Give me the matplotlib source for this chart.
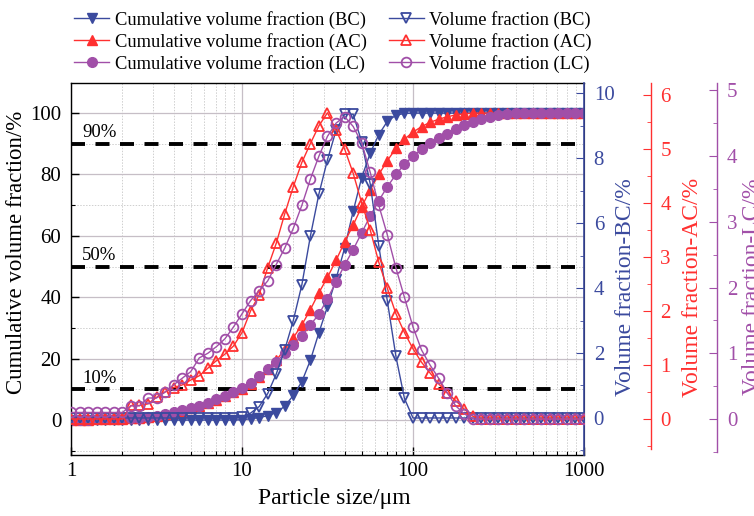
import numpy as np
import matplotlib
matplotlib.use("Agg")
import matplotlib.pyplot as plt
from matplotlib.ticker import FixedLocator, NullFormatter, MultipleLocator, LogLocator

plt.rcParams['font.family'] = ['Liberation Serif', 'DejaVu Serif']

# Particle size classes (µm), 20 classes per decade
particle_size = [
    1.000, 1.122, 1.259, 1.413, 1.585, 1.778, 1.995, 2.239, 2.512, 2.818,
    3.162, 3.548, 3.981, 4.467, 5.012, 5.623, 6.310, 7.079, 7.943, 8.913,
    10.00, 11.22, 12.59, 14.13, 15.85, 17.78, 19.95, 22.39, 25.12, 28.18,
    31.62, 35.48, 39.81, 44.67, 50.12, 56.23, 63.10, 70.79, 79.43, 89.13,
    100.0, 112.2, 125.9, 141.3, 158.5, 177.8, 199.5, 223.9, 251.2, 281.8,
    316.2, 354.8, 398.1, 446.7, 501.2, 562.3, 631.0, 707.9, 794.3, 891.3,
    1000.0,
]

# Cumulative volume fraction (%)
bc_cum = [
    0, 0, 0, 0, 0, 0, 0, 0, 0, 0,
    0, 0, 0, 0, 0, 0, 0, 0, 0, 0,
    0.1, 0.4, 0.8, 1.4, 2.4, 4.5, 8.0, 12.5, 19.5, 28.5,
    37, 46, 56, 68, 79, 87, 93, 97.3, 99.3, 99.9,
    100, 100, 100, 100, 100, 100, 100, 100, 100, 100,
    100, 100, 100, 100, 100, 100, 100, 100, 100, 100,
    100,
]
ac_cum = [
    0.1, 0.1, 0.15, 0.2, 0.25, 0.3, 0.4, 0.5, 0.7, 1.0,
    1.4, 1.9, 2.5, 3.1, 3.8, 4.6, 5.5, 6.6, 7.8, 9.0,
    10.2, 11.8, 14.0, 16.5, 19.5, 23.0, 26.8, 31.0, 36.0, 41.5,
    46.5, 52.0, 58.0, 63.5, 69.5, 75.0, 80.0, 84.5, 88.5, 91.5,
    93.8, 95.6, 97.0, 98.0, 98.8, 99.4, 99.8, 100, 100, 100,
    100, 100, 100, 100, 100, 100, 100, 100, 100, 100,
    100,
]
lc_cum = [
    0.1, 0.1, 0.15, 0.2, 0.25, 0.3, 0.4, 0.55, 0.75, 1.05,
    1.45, 1.95, 2.55, 3.2, 3.9, 4.7, 5.6, 6.7, 7.9, 9.1,
    10.5, 12.2, 14.2, 16.5, 19.0, 21.7, 24.5, 27.5, 31.0, 34.5,
    39.5, 45.0, 50.5, 55.5, 61.0, 66.5, 71.5, 76.0, 80.0, 83.3,
    86.0, 88.2, 90.2, 91.8, 93.3, 94.7, 96.0, 97.1, 98.0, 98.8,
    99.3, 99.7, 99.9, 100, 100, 100, 100, 100, 100, 100,
    100,
]

# Volume fraction per size class (%)
bc_vol = [
    0, 0, 0, 0, 0, 0, 0, 0, 0, 0,
    0, 0, 0, 0, 0, 0, 0, 0, 0, 0,
    0.03, 0.15, 0.35, 0.75, 1.35, 2.1, 3.0, 4.1, 5.6, 6.9,
    7.95, 8.85, 9.35, 9.35, 8.5, 7.2, 5.3, 3.6, 1.9, 0.6,
    0, 0, 0, 0, 0, 0, 0, 0, 0, 0,
    0, 0, 0, 0, 0, 0, 0, 0, 0, 0,
    0,
]
ac_vol = [
    0, 0, 0, 0, 0, 0, 0, 0.25, 0.25, 0.28,
    0.4, 0.5, 0.58, 0.63, 0.72, 0.8, 0.94, 1.08, 1.2, 1.35,
    1.6, 2.0, 2.3, 2.8, 3.25, 3.8, 4.3, 4.75, 5.1, 5.43,
    5.67, 5.35, 5.0, 4.55, 4.0, 3.5, 2.9, 2.42, 1.95, 1.6,
    1.3, 1.05, 0.85, 0.65, 0.48, 0.34, 0.18, 0.05, 0, 0,
    0, 0, 0, 0, 0, 0, 0, 0, 0, 0,
    0,
]
lc_vol = [
    0.1, 0.1, 0.1, 0.1, 0.1, 0.1, 0.1, 0.2, 0.2, 0.32,
    0.32, 0.41, 0.52, 0.62, 0.72, 0.93, 1.0, 1.1, 1.22, 1.4,
    1.6, 1.8, 1.95, 2.1, 2.35, 2.6, 2.9, 3.25, 3.65, 4.0,
    4.3, 4.5, 4.6, 4.45, 4.2, 3.75, 3.25, 2.8, 2.3, 1.85,
    1.4, 1.05, 0.82, 0.62, 0.4, 0.2, 0.08, 0, 0, 0,
    0, 0, 0, 0, 0, 0, 0, 0, 0, 0,
    0,
]

reference_levels = [10, 50, 90]
reference_labels = ['10%', '50%', '90%']

C_BC = '#3B4A9E'
C_AC = '#FF3030'
C_LC = '#A14FA8'

fig = plt.figure(figsize=(7.54, 5.16), dpi=100)
ax = fig.add_axes([0.0942, 0.1182, 0.6803, 0.7209])
ax_bc = ax.twinx()
ax_ac = ax.twinx()
ax_lc = ax.twinx()

ms = 7
mew = 1.3
lw = 1.0

# cumulative curves on the left axis
h1, = ax.plot(particle_size, bc_cum, color=C_BC, marker='v', ms=ms, lw=lw,
              label='Cumulative volume fraction (BC)')
h2, = ax.plot(particle_size, ac_cum, color=C_AC, marker='^', ms=ms, lw=lw,
              label='Cumulative volume fraction (AC)')
h3, = ax.plot(particle_size, lc_cum, color=C_LC, marker='o', ms=ms, lw=lw,
              label='Cumulative volume fraction (LC)')

# per-class volume fractions on the three right axes
h4, = ax_bc.plot(particle_size, bc_vol, color=C_BC, marker='v', ms=ms, lw=lw,
                 mfc='none', mew=mew, label='Volume fraction (BC)')
h5, = ax_ac.plot(particle_size, ac_vol, color=C_AC, marker='^', ms=ms, lw=lw,
                 mfc='none', mew=mew, label='Volume fraction (AC)')
h6, = ax_lc.plot(particle_size, lc_vol, color=C_LC, marker='o', ms=ms, lw=lw,
                 mfc='none', mew=mew, label='Volume fraction (LC)')

# reference levels
for lvl, txt in zip(reference_levels, reference_labels):
    ax.axhline(lvl, color='black', lw=2.8, dashes=(3.6, 2.7), zorder=1.5)
    ax.text(1.16, lvl + 2.2, txt, fontsize=13.5, ha='left', va='baseline')

ax.set_xscale('log')
ax.set_xlim(1, 1000)
ax.set_ylim(-11.4, 109.8)
ax.xaxis.set_major_locator(FixedLocator([1, 10, 100, 1000]))
ax.set_xticklabels(['1', '10', '100', '1000'])
ax.xaxis.set_minor_locator(LogLocator(base=10, subs=np.arange(2, 10)))
ax.xaxis.set_minor_formatter(NullFormatter())
ax.yaxis.set_major_locator(MultipleLocator(20))
ax.yaxis.set_minor_locator(MultipleLocator(10))

ax.grid(which='major', color='#C6BEC6', lw=0.9, ls='-')
ax.grid(which='minor', color='#CFCFCF', lw=0.7, ls=(0, (1.5, 1.5)))
ax.set_axisbelow(True)

ax.tick_params(which='both', direction='in', labelsize=15, top=False, right=False)
ax.tick_params(which='major', length=6, width=1)
ax.tick_params(which='minor', length=3, width=0.8)
ax.tick_params(axis='x', pad=5)
ax.tick_params(axis='y', pad=7)
ax.set_xlabel('Particle size/μm', fontsize=17)
ax.xaxis.set_label_coords(0.5127, -0.09)
ax.set_ylabel('Cumulative volume fraction/%', fontsize=16.5)
ax.yaxis.set_label_coords(-0.085, 0.546)
for s in ['left', 'bottom', 'top']:
    ax.spines[s].set_linewidth(1.0)

# BC axis (main right spine)
ax_bc.set_ylim(-1.14, 10.31)
ax_bc.yaxis.set_major_locator(MultipleLocator(2))
ax_bc.yaxis.set_minor_locator(MultipleLocator(1))
ax_bc.spines['right'].set_color(C_BC)
ax_bc.spines['right'].set_linewidth(1.2)
ax_bc.tick_params(which='both', direction='in', colors=C_BC, labelsize=15, pad=7)
ax_bc.tick_params(which='major', length=6)
ax_bc.tick_params(which='minor', length=3)
ax_bc.set_ylabel('Volume fraction-BC/%', fontsize=17, color=C_BC)
ax_bc.yaxis.set_label_coords(1.0604, 0.4516)

# AC axis
ax_ac.set_ylim(-0.667, 6.22)
ax_ac.spines['right'].set_position(('outward', 48))
ax_ac.spines['right'].set_bounds(-0.55, 6.22)
ax_ac.yaxis.set_major_locator(MultipleLocator(1))
ax_ac.yaxis.set_minor_locator(MultipleLocator(0.5))
ax_ac.spines['right'].set_color(C_AC)
ax_ac.tick_params(which='both', direction='in', colors=C_AC, labelsize=15, pad=7)
ax_ac.tick_params(which='major', length=6)
ax_ac.tick_params(which='minor', length=3)
ax_ac.set_ylabel('Volume fraction-AC/%', fontsize=17, color=C_AC)
ax_ac.yaxis.set_label_coords(1.191, 0.4516)

# LC axis
ax_lc.set_ylim(-0.547, 5.11)
ax_lc.spines['right'].set_position(('outward', 96))
ax_lc.spines['right'].set_bounds(-0.5, 5.11)
ax_lc.yaxis.set_major_locator(MultipleLocator(1))
ax_lc.yaxis.set_minor_locator(MultipleLocator(0.5))
ax_lc.spines['right'].set_color(C_LC)
ax_lc.tick_params(which='both', direction='in', colors=C_LC, labelsize=15, pad=7)
ax_lc.tick_params(which='major', length=6)
ax_lc.tick_params(which='minor', length=3)
ax_lc.set_ylabel('Volume fraction-LC/%', fontsize=17, color=C_LC)
ax_lc.yaxis.set_label_coords(1.308, 0.4516)

for a in (ax_bc, ax_ac, ax_lc):
    for s in ['left', 'top', 'bottom']:
        a.spines[s].set_visible(False)
for a in (ax_ac, ax_lc):
    a.spines['right'].set_linewidth(1.0)

fig.legend(handles=[h1, h2, h3, h4, h5, h6], ncol=2, frameon=False,
           loc='upper left', bbox_to_anchor=(0.081, 1.004), fontsize=13.3,
           handlelength=1.9, handletextpad=0.3, columnspacing=1.2,
           labelspacing=0.22, borderaxespad=0.3)

fig.savefig('out.png', dpi=100)
